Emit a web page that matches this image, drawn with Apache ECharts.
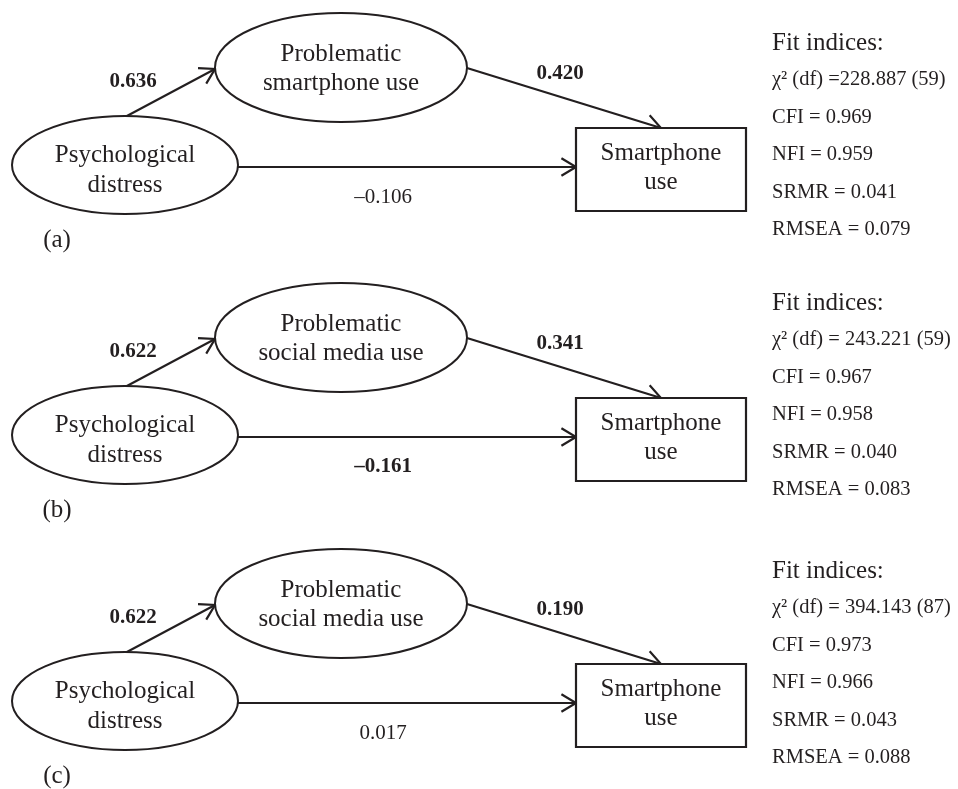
<!DOCTYPE html>
<html>
<head>
<meta charset="utf-8">
<title>Path models</title>
<script src="https://cdn.jsdelivr.net/npm/echarts@6/dist/echarts.min.js"></script>
<style>
  html, body { margin: 0; padding: 0; background: #fff; }
  #main { width: 958px; height: 789px; }
</style>
</head>
<body>
<div id="main"></div>
<script>
// one entry per panel (a), (b), (c)
var panelNames = ['(a)', '(b)', '(c)'];
var predictorName = 'Psychological\ndistress';
var mediatorNames = ['Problematic\nsmartphone use', 'Problematic\nsocial media use', 'Problematic\nsocial media use'];
var outcomeName = 'Smartphone\nuse';

// standardized path coefficients
var pathA = [0.636, 0.622, 0.622];    // distress -> problematic use
var pathB = [0.420, 0.341, 0.190];    // problematic use -> smartphone use
var pathC = [-0.106, -0.161, 0.017];  // direct path
var pathCBold = [false, true, false]; // significant direct path printed bold

// fit indices
var chiSquare = [228.887, 243.221, 394.143];
var chiDf = [59, 59, 87];
var cfi = [0.969, 0.967, 0.973];
var nfi = [0.959, 0.958, 0.966];
var srmr = [0.041, 0.040, 0.043];
var rmsea = [0.079, 0.083, 0.088];

// vertical offset of each panel (layout only)
var panelTop = [0, 270, 536];
var fitTop = [0, 260, 528];

var ink = '#231f20';
var serif = '"Liberation Serif", "Times New Roman", serif';

function fmt(v) {
    return (v < 0 ? '\u2013' : '') + Math.abs(v).toFixed(3);
}

function txt(p, text, size, opt) {
    opt = opt || {};
    var align = opt.align || 'center';
    return {
        type: 'text',
        x: p[0],
        y: p[1],
        style: {
            text: text,
            font: (opt.bold ? 'bold ' : '') + size + 'px ' + serif,
            fill: ink,
            align: align,
            textAlign: align,
            verticalAlign: 'middle',
            textVerticalAlign: 'middle',
            lineHeight: opt.lineHeight || size
        }
    };
}

function arrow(p1, p2) {
    var ang = Math.atan2(p2[1] - p1[1], p2[0] - p1[0]);
    var len = 17, half = 0.54;
    var a1 = [p2[0] - len * Math.cos(ang - half), p2[1] - len * Math.sin(ang - half)];
    var a2 = [p2[0] - len * Math.cos(ang + half), p2[1] - len * Math.sin(ang + half)];
    return [{
        type: 'line',
        shape: { x1: p1[0], y1: p1[1], x2: p2[0], y2: p2[1] },
        style: { stroke: ink, lineWidth: 2.2 }
    }, {
        type: 'polyline',
        shape: { points: [a1, p2, a2] },
        style: { stroke: ink, fill: null, lineWidth: 2.2 }
    }];
}

function renderItem(params, api) {
    var i = api.value(0);
    var dy = panelTop[i], fy = fitTop[i];
    var pt = function (x, y) { return api.coord([x, y + dy]); };
    var fp = function (x, y) { return api.coord([x, y + fy]); };
    var sz = function (w, h) { return api.size([w, h]); };

    var dc = pt(125, 165), dr = sz(113, 49);
    var mc = pt(341, 67.5), mr = sz(126, 54.5);
    var b0 = pt(576, 128), bs = sz(170, 83);

    var children = [];
    // arrows first so the shapes sit on top of the line ends
    children = children.concat(arrow(pt(125, 117), pt(215, 69)));
    children = children.concat(arrow(pt(238, 167), pt(576, 167)));
    children = children.concat(arrow(pt(467, 68), pt(661, 128)));

    children.push({
        type: 'ellipse',
        shape: { cx: dc[0], cy: dc[1], rx: dr[0], ry: dr[1] },
        style: { fill: '#fff', stroke: ink, lineWidth: 2 }
    });
    children.push({
        type: 'ellipse',
        shape: { cx: mc[0], cy: mc[1], rx: mr[0], ry: mr[1] },
        style: { fill: '#fff', stroke: ink, lineWidth: 2 }
    });
    children.push({
        type: 'rect',
        shape: { x: b0[0], y: b0[1], width: bs[0], height: bs[1] },
        style: { fill: '#fff', stroke: ink, lineWidth: 2.2 }
    });

    // node names
    children.push(txt(pt(125, 170), predictorName, 25, { lineHeight: 30 }));
    children.push(txt(pt(341, 69), mediatorNames[i], 25, { lineHeight: 29 }));
    children.push(txt(pt(661, 167.5), outcomeName, 25, { lineHeight: 29 }));

    // coefficients
    children.push(txt(pt(133, 82), fmt(pathA[i]), 21, { bold: true }));
    children.push(txt(pt(560, 74), fmt(pathB[i]), 21, { bold: true }));
    children.push(txt(pt(383, 197), fmt(pathC[i]), 21, { bold: pathCBold[i] }));

    // panel tag
    children.push(txt(pt(57, 240), panelNames[i], 25));

    // fit indices, panel (a) is printed without the space after '='
    var fitLines = [
        '\u03c7\u00b2 (df) ' + (i === 0 ? '=' : '= ') + chiSquare[i].toFixed(3) + ' (' + chiDf[i] + ')',
        'CFI = ' + cfi[i].toFixed(3),
        'NFI = ' + nfi[i].toFixed(3),
        'SRMR = ' + srmr[i].toFixed(3),
        'RMSEA = ' + rmsea[i].toFixed(3)
    ];
    children.push(txt(fp(772, 43), 'Fit indices:', 25, { align: 'left' }));
    for (var k = 0; k < fitLines.length; k++) {
        children.push(txt(fp(772, 80 + k * 37.5), fitLines[k], 20.5, { align: 'left' }));
    }

    return { type: 'group', children: children };
}

var myChart = echarts.init(document.getElementById('main'));
var option = {
    backgroundColor: '#fff',
    animation: false,
    grid: { left: 0, right: 0, top: 0, bottom: 0 },
    xAxis: { type: 'value', min: 0, max: 958, show: false },
    yAxis: { type: 'value', min: 0, max: 789, inverse: true, show: false },
    series: [{
        type: 'custom',
        silent: true,
        clip: false,
        renderItem: renderItem,
        data: panelNames.map(function (n, i) { return [i, 0]; })
    }]
};
myChart.setOption(option);
window.addEventListener('resize', function () {
    myChart.resize();
});
</script>
</body>
</html>
